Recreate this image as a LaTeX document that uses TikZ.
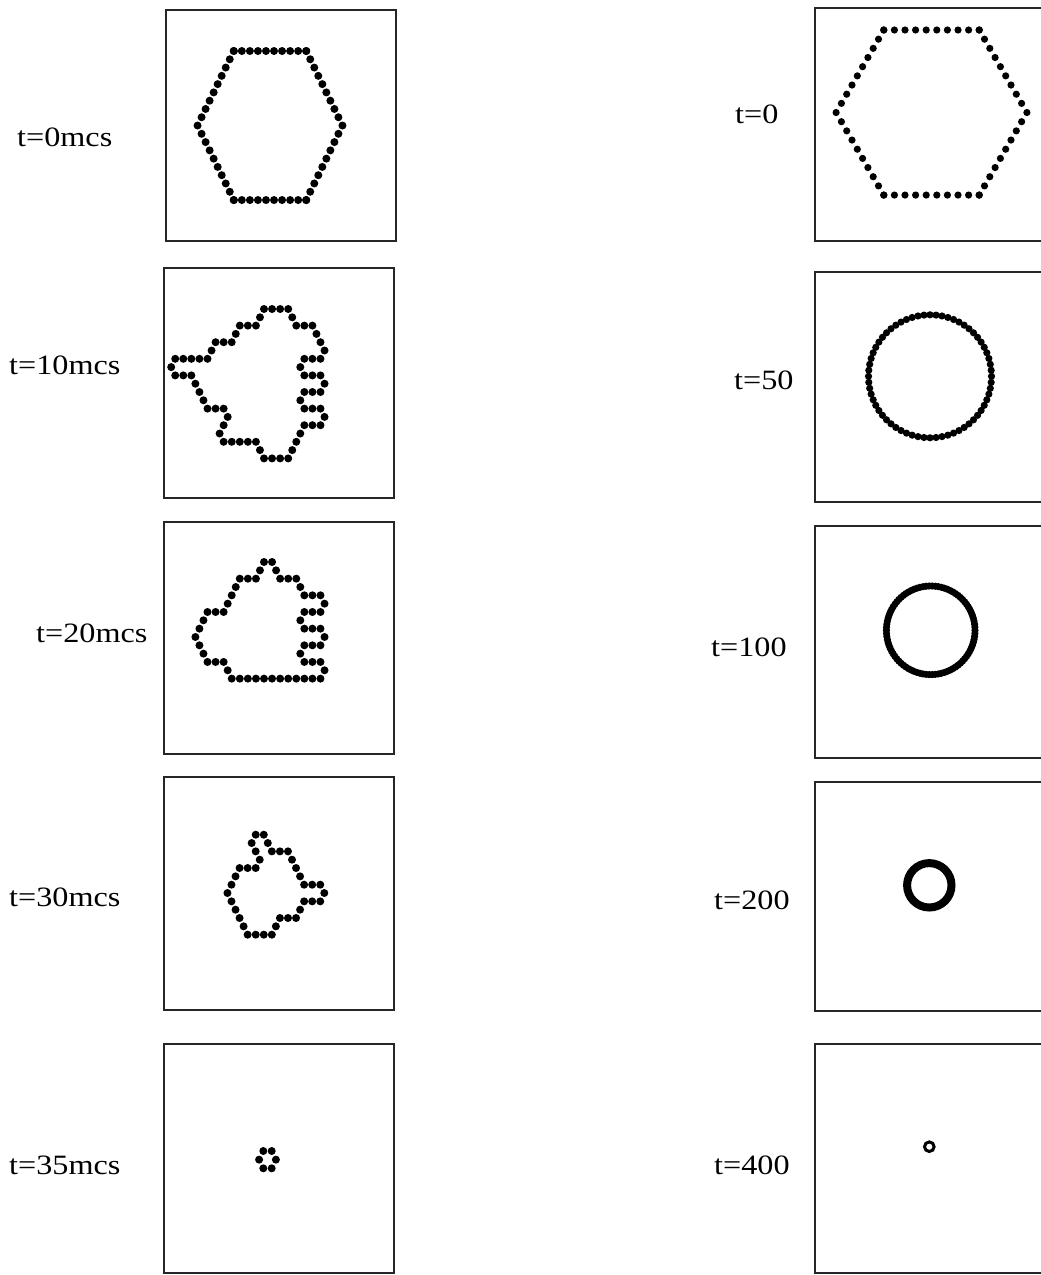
\documentclass[tikz,border=0pt]{standalone}
\usepackage{fontspec}
\setmainfont{Liberation Serif}
\newcommand\latdots[6]{%
  \foreach \r/\cs in {#6} {\foreach \c in \cs {\fill[black] ({#1+#3*\c},{#2+#4*\r}) circle[radius=#5pt];}}}
\newcommand\hexdots[5]{%
  \foreach \r in {0,...,18} {%
    \pgfmathsetmacro\w{4.5+min(\r,18-\r)/2}
    \ifnum\r=0 \foreach \c in {-4.5,-3.5,...,4.5} {\fill ({#1+#3*\c},{#2+#4*\r}) circle[radius=#5pt];}\fi
    \ifnum\r=18 \foreach \c in {-4.5,-3.5,...,4.5} {\fill ({#1+#3*\c},{#2+#4*\r}) circle[radius=#5pt];}\fi
    \fill ({#1-#3*\w},{#2+#4*\r}) circle[radius=#5pt];
    \fill ({#1+#3*\w},{#2+#4*\r}) circle[radius=#5pt];}}
\tikzset{
  panel/.style={draw=black!85, line width=1.2pt},
  lbl/.style={anchor=base west, inner sep=0pt, font=\fontsize{28}{30}\selectfont}
}
\begin{document}
\begin{tikzpicture}[x=1pt,y=-1pt]
\useasboundingbox (0,0) rectangle (1041,1275);
\clip (0,0) rectangle (1041,1275);
\fill[white] (0,0) rectangle (1041,1275);
% left boxes
\draw[panel] (166,10) rectangle (396,241);
\draw[panel] (164,268) rectangle (394,498);
\draw[panel] (164,522) rectangle (394,754);
\draw[panel] (164,777) rectangle (394,1010);
\draw[panel] (164,1044) rectangle (394,1273);
% right boxes
\draw[panel] (815,8) rectangle (1046,241);
\draw[panel] (815,272) rectangle (1046,502);
\draw[panel] (815,526) rectangle (1046,758);
\draw[panel] (815,782) rectangle (1046,1011);
\draw[panel] (815,1044) rectangle (1046,1273);
% labels
\node[lbl] (l0) at (17,146.5) {\scalebox{1.15}[1]{t=0mcs}};
\node[lbl] (l10) at (9,374.5) {\scalebox{1.15}[1]{t=10mcs}};
\node[lbl] (l20) at (36,642.5) {\scalebox{1.15}[1]{t=20mcs}};
\node[lbl] (l30) at (9,906.5) {\scalebox{1.15}[1]{t=30mcs}};
\node[lbl] (l35) at (9,1174.5) {\scalebox{1.15}[1]{t=35mcs}};
\node[lbl] (r0) at (735,123.5) {\scalebox{1.15}[1]{t=0}};
\node[lbl] (r50) at (734,389.5) {\scalebox{1.15}[1]{t=50}};
\node[lbl] (r100) at (711,656.5) {\scalebox{1.15}[1]{t=100}};
\node[lbl] (r200) at (714,909.5) {\scalebox{1.15}[1]{t=200}};
\node[lbl] (r400) at (714,1174.5) {\scalebox{1.15}[1]{t=400}};
% panel 1 hexagon
\hexdots{270}{51}{8.05}{8.28}{4.0}
% panel 6 hexagon
\hexdots{931.5}{30}{10.6}{9.17}{3.6}
% panel 2 (t=10)
\latdots{264}{309}{8.07}{8.3}{4.0}{0/{0,1,2,3},1/{-0.5,3.5},2/{-3,-2,-1,4,5,6},3/{-3.5,6.5},4/{-6,-5,-4,7},5/{-6.5,7.5},6/{-11,-10,-9,-8,-7,5,6,7},7/{-11.5,4.5},8/{-11,-10,-9,5,6,7},9/{-8.5,7.5},10/{-8,5,6,7},11/{-7.5,4.5},12/{-7,-6,-5,5,6,7},13/{-4.5,7.5},14/{-5,5,6,7},15/{-5.5,4.5},16/{-5,-4,-3,-2,-1,4},17/{-0.5,3.5},18/{0,1,2,3}}
% panel 3 (t=20)
\latdots{264}{562}{8.07}{8.33}{4.0}{0/{0,1},1/{-0.5,1.5},2/{-3,-2,-1,2,3,4},3/{-3.5,4.5},4/{-4,5,6,7},5/{-4.5,7.5},6/{-7,-6,-5,5,6,7},7/{-7.5,4.5},8/{-8,5,6,7},9/{-8.5,7.5},10/{-8,5,6,7},11/{-7.5,4.5},12/{-7,-6,-5,5,6,7},13/{-4.5,7.5},14/{-4,-3,-2,-1,0,1,2,3,4,5,6,7}}
% panel 4 (t=30)
\latdots{255.7}{834.7}{8.07}{8.33}{4.0}{0/{0,1},1/{-0.5,1.5},2/{0,2,3,4},3/{0.5,4.5},4/{-2,-1,0,5},5/{-2.5,5.5},6/{-3,6,7,8},7/{-3.5,8.5},8/{-3,6,7,8},9/{-2.5,5.5},10/{-2,3,4,5},11/{-1.5,2.5},12/{-1,0,1,2}}
% panel 5 (t=35)
\latdots{267.5}{1151}{8.4}{8.65}{4.0}{0/{-0.5,0.5},1/{-1,1},2/{-0.5,0.5}}
% panel 7 (t=50)
\foreach \k in {0,...,63} {\fill ({930+61.5*cos(\k*5.625)},{376.3+61.5*sin(\k*5.625)}) circle[radius=3.6pt];}
% panel 8 (t=100)
\foreach \k in {0,...,89} {\fill ({930.7+44.3*cos(\k*4)},{630.3+44.3*sin(\k*4)}) circle[radius=3.6pt];}
% panel 9 (t=200)
\draw[line width=8pt] (929.3,885.3) circle[radius=22.2pt];
% panel 10 (t=400)
\draw[line width=3pt] (929.3,1146.7) circle[radius=4.8pt];
\end{tikzpicture}
\end{document}
